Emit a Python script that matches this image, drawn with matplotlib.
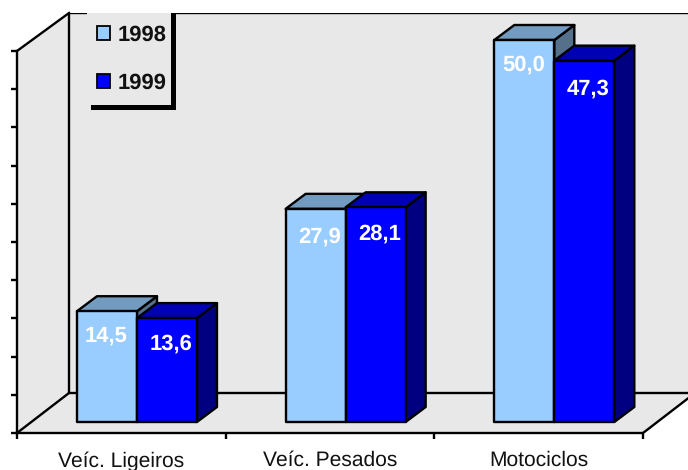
import matplotlib
matplotlib.use("Agg")
import matplotlib.pyplot as plt
from matplotlib.patches import Polygon, Rectangle

plt.rcParams['font.family'] = ['Liberation Sans', 'DejaVu Sans']
plt.rcParams['text.hinting'] = 'no_hinting'
plt.rcParams['text.hinting_factor'] = 1

categories = ['Veíc. Ligeiros', 'Veíc. Pesados', 'Motociclos']
values_1998 = [14.5, 27.9, 50.0]
values_1999 = [13.6, 28.1, 47.3]
labels_1998 = ['14,5', '27,9', '50,0']
labels_1999 = ['13,6', '28,1', '47,3']
series_names = ['1998', '1999']
y_ticks = list(range(0, 55, 5))
x_ticks = [0, 1, 2, 3]

W, H = 688, 470
L, B, T = 17, 433, 13
PX = 208.67      # px per category
PY = 7.64        # px per unit
lw = 1.7

fig = plt.figure(figsize=(W / 100, H / 100), dpi=100, facecolor='white')
ax = fig.add_axes([L / W, (H - B) / H, (W - L) / W, (B - T) / H])
xmax = (W - L) / PX
ymax = (B - T) / PY
ax.set_xlim(0, xmax)
ax.set_ylim(0, ymax)
ax.patch.set_visible(False)

dx3, dy3 = 52 / PX, 40 / PY          # depth of the chart floor
bdx, bdy = 20 / PX, 15 / PY          # depth of a bar
base = 11 / PY                       # bar base above front edge
wall = '#E8E8E8'
ytop = 50 + 38 / PY

def poly(pts, fc, ec='black', z=1, w=lw):
    ax.add_patch(Polygon(pts, closed=True, facecolor=fc, edgecolor=ec, linewidth=w,
                         zorder=z, clip_on=False, joinstyle='round'))

# walls and floor
ax.add_patch(Rectangle((dx3, dy3), xmax - dx3, ytop - dy3, facecolor=wall, edgecolor='none', zorder=1))
poly([(0, 0), (dx3, dy3), (dx3, ytop), (0, 50)], wall, 'none')
poly([(0, 0), (3, 0), (3 + dx3, dy3), (dx3, dy3)], wall, 'none')
ax.plot([dx3, xmax], [dy3, dy3], color='black', lw=lw, zorder=2, solid_capstyle='butt')
ax.plot([dx3, dx3], [dy3, ytop], color='black', lw=lw, zorder=2, solid_capstyle='butt')
ax.plot([dx3, xmax], [ytop, ytop], color='black', lw=lw, zorder=2, solid_capstyle='butt')
ax.plot([0, dx3], [0, dy3], color='black', lw=lw, zorder=2, clip_on=False)
ax.plot([0, dx3], [50, ytop], color='black', lw=lw, zorder=2, clip_on=False)
ax.plot([3, xmax], [0, dy3 * (xmax - 3) / dx3], color='black', lw=lw, zorder=2)

# axes
for s in ['top', 'right']:
    ax.spines[s].set_visible(False)
ax.spines['left'].set_bounds(0, 50)
ax.spines['bottom'].set_bounds(0, 3)
for s in ['left', 'bottom']:
    ax.spines[s].set_linewidth(lw)
    ax.spines[s].set_zorder(3)
ax.set_yticks(y_ticks)
ax.set_yticklabels([])
ax.set_xticks(x_ticks)
ax.set_xticklabels([])
ax.set_xticks([i + 0.5 for i in range(3)], minor=True)
ax.set_xticklabels(categories, minor=True, fontsize=15.3, color='#111111')
ax.tick_params(axis='both', which='major', length=4.5, width=lw, color='black')
ax.tick_params(axis='x', which='minor', length=0, pad=13)

# bars
bw = 60 / PX
off = 0.075
nudge_x_1998 = [0, 5 / PX, 0]
nudge_y_1998 = [0, 3 / PY, 0]
nudge_y_1999 = [0, 1 / PY, 2 / PY]

def bar3d(x0, v, front, top, side, z):
    y0, y1 = base, base + v
    x1 = x0 + bw
    poly([(x1, y0), (x1 + bdx, y0 + bdy), (x1 + bdx, y1 + bdy), (x1, y1)], side, z=z)
    poly([(x0, y1), (x1, y1), (x1 + bdx, y1 + bdy), (x0 + bdx, y1 + bdy)], top, z=z)
    poly([(x0, y0), (x1, y0), (x1, y1), (x0, y1)], front, z=z + 0.1)

for i in range(3):
    c = i + 0.5 + off
    bar3d(c - bw, values_1998[i], '#99CCFF', '#739ABF', '#55708A', 4 + i)
    bar3d(c, values_1999[i], '#0000FF', '#0000B4', '#000080', 4.5 + i)
    ax.text(c - bw / 2 - 0.005 + nudge_x_1998[i], base + values_1998[i] - 25 / PY - nudge_y_1998[i],
            labels_1998[i], color='white', fontsize=15.8, fontweight='bold',
            ha='center', va='center', zorder=20)
    ax.text(c + bw / 2 + 0.018, base + values_1999[i] - 26 / PY - nudge_y_1999[i],
            labels_1999[i], color='white', fontsize=15.8, fontweight='bold',
            ha='center', va='center', zorder=20)

# legend: background, drop shadow, then real legend
def fx(px):
    return (px - L) / PX

def fy(py):
    return (B - py) / PY

ax.add_patch(Rectangle((fx(87), fy(105)), fx(171) - fx(87), fy(12.9) - fy(105), facecolor=wall,
                       edgecolor='none', zorder=10, clip_on=False))
ax.add_patch(Rectangle((fx(171), fy(110)), fx(176) - fx(171), fy(14) - fy(110), facecolor='black',
                       edgecolor='none', zorder=11, clip_on=False))
ax.add_patch(Rectangle((fx(91), fy(110)), fx(176) - fx(91), fy(105) - fy(110), facecolor='black',
                       edgecolor='none', zorder=11, clip_on=False))
handles = [Rectangle((0, 0), 1, 1, facecolor='#99CCFF', edgecolor='black', linewidth=1.3),
           Rectangle((0, 0), 1, 1, facecolor='#0000FF', edgecolor='black', linewidth=1.3)]
leg = ax.legend(handles, series_names, loc='upper left',
                bbox_to_anchor=(97 / W, (H - 25) / H), bbox_transform=fig.transFigure,
                frameon=False, borderpad=0, borderaxespad=0, handlelength=0.6, handleheight=0.6,
                handletextpad=0.36, labelspacing=1.24, prop={'size': 15.8, 'weight': 'bold'})
leg.set_zorder(12)
for t in leg.get_texts():
    t.set_color('#111111')

fig.savefig('out.png', dpi=100, facecolor='white')
